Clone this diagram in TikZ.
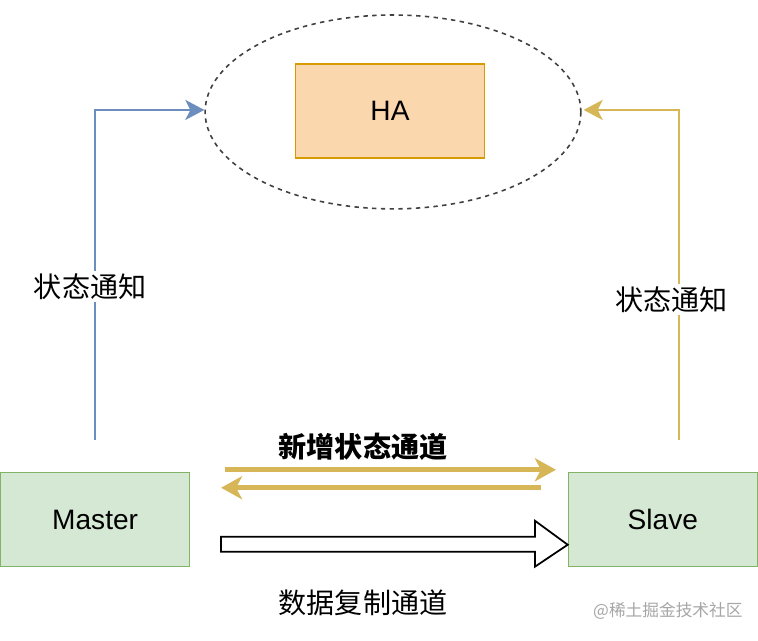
\documentclass[tikz,border=0pt]{standalone}
\usepackage{fontspec}
\setmainfont{Liberation Sans}
\newfontfamily\cjk{Noto Sans CJK SC}
\usetikzlibrary{shapes.geometric,arrows.meta,calc}
\definecolor{boxgreen}{HTML}{D5E8D4}
\definecolor{linegreen}{HTML}{82B366}
\definecolor{boxorange}{HTML}{FAD7AC}
\definecolor{lineorange}{HTML}{D79B00}
\definecolor{notifyblue}{HTML}{6C8EBF}
\definecolor{chanyellow}{HTML}{D6B656}
\tikzset{
  nodebox/.style={draw, line width=0.8pt, minimum width=3.78cm, minimum height=1.88cm, font=\fontsize{16}{18}\selectfont},
  label/.style={font=\cjk\fontsize{16}{18}\selectfont},
}
\begin{document}
\begin{tikzpicture}[x=0.02cm, y=-0.02cm]
  \fill[white] (0,0) rectangle (758,641);
  \node[draw=black!75, line width=0.9pt, dash pattern=on 2.5pt off 2.5pt, ellipse, minimum width=7.52cm, minimum height=3.88cm] (ha-zone) at (393,112) {};
  \node[nodebox, fill=boxorange, draw=lineorange] (ha) at (390,111) {HA};
  \node[nodebox, fill=boxgreen, draw=linegreen] (master) at (95,520) {Master};
  \node[nodebox, fill=boxgreen, draw=linegreen] (slave) at (663,520) {Slave};
  \coordinate (mup) at (95,440);
  \coordinate (sup) at (679,440);
  \coordinate (mcorner) at (95,110);
  \coordinate (scorner) at (679,110);
  % status notifications
  \draw[notifyblue, line width=1.4pt, -{Stealth[length=0.38cm, width=0.4cm, inset=0.1cm]}] (mup) -- (mcorner) -- (ha-zone.west |- mcorner);
  \draw[chanyellow, line width=1.4pt, -{Stealth[length=0.38cm, width=0.4cm, inset=0.1cm]}] (sup) -- (scorner) -- ($(ha-zone.east |- scorner)+(2,0)$);
  \node[label, fill=white, inner sep=1.5pt] (notify-l) at (90,287) {状态通知};
  \node[label, fill=white, inner sep=1.5pt] (notify-r) at (672,300) {状态通知};
  % new status channel
  \coordinate (ch1a) at (225,470);
  \coordinate (ch1b) at (556,470);
  \coordinate (ch2a) at (541,488);
  \coordinate (ch2b) at (221,488);
  \draw[chanyellow, line width=2.6pt, -{Stealth[length=0.42cm, width=0.46cm, inset=0.12cm]}] (ch1a) -- (ch1b);
  \draw[chanyellow, line width=2.6pt, -{Stealth[length=0.42cm, width=0.46cm, inset=0.12cm]}] (ch2a) -- (ch2b);
  \node[label, font=\cjk\bfseries\fontsize{16}{18}\selectfont] (newch) at (363,447) {新增状态通道};
  % data replication channel
  \draw[line width=1pt, fill=white, line join=miter] (221,537) -- (535,537) -- (535,521) -- (slave.west |- 0,545) -- (535,567) -- (535,552) -- (221,552) -- cycle;
  \node[label] (datach) at (363,603) {数据复制通道};
  \node[text=gray!70, font=\cjk\fontsize{9.5}{11}\selectfont] (mark) at (668,611) {@稀土掘金技术社区};
\end{tikzpicture}
\end{document}
